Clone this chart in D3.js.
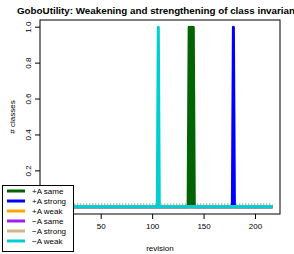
<!DOCTYPE html>
<html>
<head>
<meta charset="utf-8">
<script src="https://cdn.jsdelivr.net/npm/d3@7"></script>
<style>
    body { margin: 0; background: #fff; }
    text { font-family: "Liberation Sans", Arial, sans-serif; }
</style>
</head>
<body>
<div id="chart"></div>
<script>
// series names and colours, legend order
const seriesNames = ["+A same", "+A strong", "+A weak", "\u2212A same", "\u2212A strong", "\u2212A weak"];
const seriesColors = ["#006400", "#0000ff", "#ffa500", "#a020f0", "#d2b48c", "#00ced1"];

// [revision, # classes] break points
const plusSame = [[1, 0], [135, 0], [136, 1], [137, 0], [138, 1], [139, 0], [140, 1], [141, 0], [217, 0]];
const plusStrong = [[1, 0], [178, 0], [179, 1], [180, 0], [217, 0]];
const plusWeak = [[1, 0], [217, 0]];
const minusSame = [[1, 0], [217, 0]];
const minusStrong = [[1, 0], [217, 0]];
const minusWeak = [[1, 0], [105, 0], [106, 1], [107, 0], [217, 0]];

// faint dotted reference just above zero
const dottedRef = [[1, 0.015], [217, 0.015]];

// 0 ticks sit under the legend, so only the visible ones
const xTicks = [50, 100, 150, 200];
const yTicks = [0.2, 0.4, 0.6, 0.8, 1.0];

const allSeries = [plusSame, plusStrong, plusWeak, minusSame, minusStrong, minusWeak];

const W = 294, H = 254;
const plot = { left: 40, right: 280, top: 20, bottom: 214 };

const x = d3
    .scaleLinear()
    .domain([-9, 224.3])
    .range([plot.left, plot.right]);

const y = d3
    .scaleLinear()
    .domain([-0.04, 1.04])
    .range([plot.bottom, plot.top]);

const svg = d3
    .select("#chart")
    .append("svg")
    .attr("width", W)
    .attr("height", H)
    .style("background", "#fff");

const line = d3
    .line()
    .x((d) => x(d[0]))
    .y((d) => y(d[1]));

svg.append("path")
    .datum(dottedRef)
    .attr("fill", "none")
    .attr("stroke", "#4d6b4d")
    .attr("stroke-width", 1)
    .attr("stroke-dasharray", "1,2")
    .attr("d", line);

allSeries.forEach((s, i) => {
    svg.append("path")
        .datum(s)
        .attr("fill", "none")
        .attr("stroke", seriesColors[i])
        .attr("stroke-width", 3)
        .attr("stroke-linejoin", "round")
        .attr("d", line);
});

// box
svg.append("rect")
    .attr("x", plot.left)
    .attr("y", plot.top)
    .attr("width", plot.right - plot.left)
    .attr("height", plot.bottom - plot.top)
    .attr("fill", "none")
    .attr("stroke", "#000")
    .attr("stroke-width", 1);

// x axis
svg.append("g")
    .attr("transform", `translate(0,${plot.bottom})`)
    .call(d3.axisBottom(x).tickValues(xTicks).tickSize(5).tickPadding(4).tickSizeOuter(0))
    .call((g) => g.select(".domain").remove())
    .call((g) => g.selectAll("text").attr("font-size", 8).attr("fill", "#000").style("font-family", "Liberation Sans, Arial"));

// y axis, labels parallel to axis like R
const yAxis = svg.append("g")
    .attr("transform", `translate(${plot.left},0)`);

yAxis.selectAll("line")
    .data(yTicks)
    .enter()
    .append("line")
    .attr("x1", -5)
    .attr("x2", 0)
    .attr("y1", (d) => y(d))
    .attr("y2", (d) => y(d))
    .attr("stroke", "#000");

yAxis.selectAll("text")
    .data(yTicks)
    .enter()
    .append("text")
    .attr("transform", (d) => `translate(-9,${y(d)}) rotate(-90)`)
    .attr("text-anchor", "middle")
    .attr("font-size", 8)
    .text((d) => d3.format(".1f")(d));

svg.append("text")
    .attr("transform", `translate(15,${(plot.top + plot.bottom) / 2}) rotate(-90)`)
    .attr("text-anchor", "middle")
    .attr("font-size", 8)
    .text("# classes");

svg.append("text")
    .attr("x", (plot.left + plot.right) / 2)
    .attr("y", 251)
    .attr("text-anchor", "middle")
    .attr("font-size", 8)
    .text("revision");

svg.append("text")
    .attr("x", 17)
    .attr("y", 14)
    .attr("font-size", 9.8)
    .attr("font-weight", "bold")
    .text("GoboUtility: Weakening and strengthening of class invariants");

// legend
const legend = svg.append("g");

legend.append("rect")
    .attr("x", 2.5)
    .attr("y", 185.5)
    .attr("width", 71)
    .attr("height", 66)
    .attr("fill", "#fff")
    .attr("stroke", "#000");

const items = legend.selectAll(".item")
    .data(seriesNames)
    .enter()
    .append("g")
    .attr("class", "item")
    .attr("transform", (d, i) => `translate(0,${191 + i * 10})`);

items.append("line")
    .attr("x1", 7)
    .attr("x2", 25)
    .attr("stroke", (d, i) => seriesColors[i])
    .attr("stroke-width", 3);

items.append("text")
    .attr("x", 32)
    .attr("dy", "0.35em")
    .attr("font-size", 8)
    .text((d) => d);
</script>
</body>
</html>
